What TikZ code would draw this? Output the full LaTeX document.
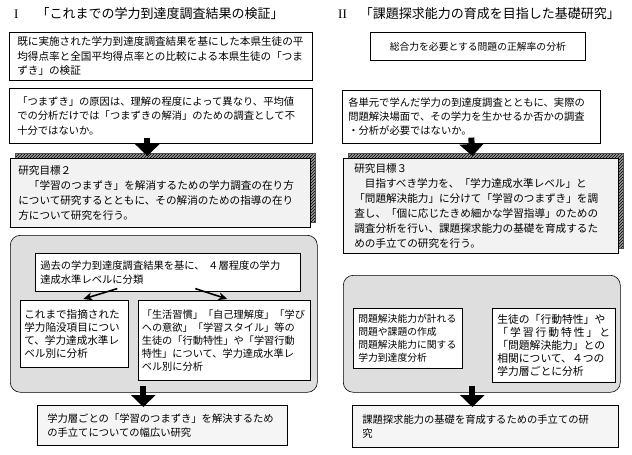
\documentclass[tikz,border=0pt]{standalone}
\usepackage{fontspec}
\setmainfont{Noto Sans CJK JP}
\newfontfamily\numfont{Liberation Serif}
\usetikzlibrary{arrows.meta,patterns}

\begin{document}
\begin{tikzpicture}[x=1pt, y=-1pt,
  every node/.style={inner sep=0pt, font=\fontsize{10.6}{14.5}\selectfont},
  title/.style={anchor=west, font=\fontsize{13}{15}\selectfont},
  box/.style={draw, line width=0.6pt, fill=white, anchor=north west, align=left, inner xsep=8pt},
  goalbox/.style={box, fill=black!5, font=\fontsize{10.6}{15}\selectfont},
  lastbox/.style={box, fill=black!4, font=\fontsize{10.3}{14}\selectfont},
  smallbox/.style={box, inner xsep=4pt, font=\fontsize{10.6}{13}\selectfont},
  panel/.style={draw, line width=0.6pt, fill=black!13, rounded corners=10pt, anchor=north west},
  shadow/.style={draw=black!70, line width=0.4pt, preaction={fill=black!40}, pattern=north east lines, pattern color=black},
  bigarrow/.style={line width=6pt, -{Triangle[width=24pt,length=12pt]}},
  smallarrow/.style={line width=1.6pt, -{Stealth[length=9pt,width=8pt]}}]

\useasboundingbox (0,0) rectangle (632,455);

%titles
\node[title] (tL) at (14,14) {{\numfont I}\hspace{18pt}「これまでの学力到達度調査結果の検証」};
\node[title] (tR) at (338,14) {{\numfont II}\hspace{13pt}「課題探求能力の育成を目指した基礎研究」};

%left column
\node[box, text width=287pt, minimum height=48pt] (b1) at (9,32)
  {既に実施された学力到達度調査結果を基にした本県生徒の平\\均得点率と全国平均得点率との比較による本県生徒の「つま\\ずき」の検証};
\node[box, text width=287pt, minimum height=55pt, font=\fontsize{10.3}{14.5}\selectfont] (b2) at (9,88)
  {「つまずき」の原因は、理解の程度によって異なり、平均値\\での分析だけでは「つまずきの解消」のための調査として不\\十分ではないか。};

\fill[shadow] (15,153) rectangle (315,222);
\node[goalbox, text width=284pt, minimum height=69pt] (g2) at (10,158)
  {研究目標２\\　「学習のつまずき」を解消するための学力調査の在り方\\について研究するとともに、その解消のための指導の在り\\方について研究を行う。};
\draw[bigarrow] ([xshift=-13.5pt,yshift=6pt]b2.south) -- ([xshift=-13pt,yshift=2pt]g2.north);

\node[panel, minimum width=307pt, minimum height=157pt] (pL) at (10,235) {};
\node[box, inner xsep=5pt, text width=255pt, minimum height=38pt, font=\fontsize{10.3}{14}\selectfont] (p1) at (35,253)
  {過去の学力到達度調査結果を基に、 ４層程度の学力\\達成水準レベルに分類};
\node[smallbox, text width=100pt, minimum height=67pt] (ll) at (20,300)
  {これまで指摘された\\学力陥没項目につい\\て、学力達成水準レ\\ベル別に分析};
\node[smallbox, inner xsep=3.5pt, text width=165pt, minimum height=80pt, font=\fontsize{10.2}{13}\selectfont] (lr) at (138,300)
  {「生活習慣」「自己理解度」「学び\\への意欲」「学習スタイル」等の\\生徒の「行動特性」や「学習行動\\特性」について、学力達成水準レ\\ベル別に分析};
\draw[smallarrow] ([xshift=-50.5pt,yshift=3pt]p1.south) -- ([xshift=9pt,yshift=1pt]ll.north);
\draw[smallarrow] ([xshift=27.5pt,yshift=3pt]p1.south) -- ([xshift=3pt,yshift=1pt]lr.north);

\node[lastbox, inner xsep=10pt, text width=230pt, minimum height=40pt] (fL) at (37,405)
  {学力層ごとの「学習のつまずき」を解決するため\\の手立てについての幅広い研究};
\draw[bigarrow] ([xshift=-20.5pt,yshift=7pt]pL.south) -- ([xshift=-19pt,yshift=-2pt]fL.north);

%right column
\node[box, align=center, text width=199pt, minimum height=28pt, font=\fontsize{9.8}{12}\selectfont] (r1) at (370,32)
  {総合力を必要とする問題の正解率の分析};
\node[box, inner xsep=6pt, text width=246pt, minimum height=53pt, font=\fontsize{10.3}{14}\selectfont] (r2) at (342,90)
  {各単元で学んだ学力の到達度調査とともに、実際の\\問題解決場面で、その学力を生かせるか否かの調査\\・分析が必要ではないか。};

\fill[shadow] (348,153) rectangle (623,248);
\node[goalbox, inner xsep=11pt, text width=253pt, minimum height=95pt] (g3) at (343,158)
  {研究目標３\\　目指すべき学力を、「学力達成水準レベル」と\\「問題解決能力」に分けて「学習のつまずき」を調\\査し、「個に応じたきめ細かな学習指導」のための\\調査分析を行い、課題探求能力の基礎を育成するた\\めの手立ての研究を行う。};
\draw[bigarrow] ([yshift=6pt]r2.south) -- ([xshift=-8.5pt,yshift=2pt]g3.north);

\node[panel, minimum width=277pt, minimum height=117pt] (pR) at (343,275) {};
\node[smallbox, inner xsep=5pt, text width=99pt, minimum height=60pt, font=\fontsize{9.8}{13}\selectfont] (rl) at (353,308)
  {問題解決能力が計れる\\問題や課題の作成\\問題解決能力に関する\\学力到達度分析};
\node[smallbox, inner xsep=5pt, text width=113pt, minimum height=74pt, font=\fontsize{10.8}{13}\selectfont] (rr) at (492,308)
  {生徒の「行動特性」や\\「\hfill 学\hfill 習\hfill 行\hfill 動\hfill 特\hfill 性\hfill 」\hfill と\\「問題解決能力」との\\相関について、４つの\\学力層ごとに分析};

\node[lastbox, inner xsep=10pt, text width=246pt, minimum height=42pt] (fR) at (352,405)
  {課題探求能力の基礎を育成するための手立ての研\\究};
\draw[bigarrow] ([xshift=-9.5pt,yshift=7pt]pR.south) -- ([xshift=-13pt,yshift=-2pt]fR.north);

\end{tikzpicture}
\end{document}
